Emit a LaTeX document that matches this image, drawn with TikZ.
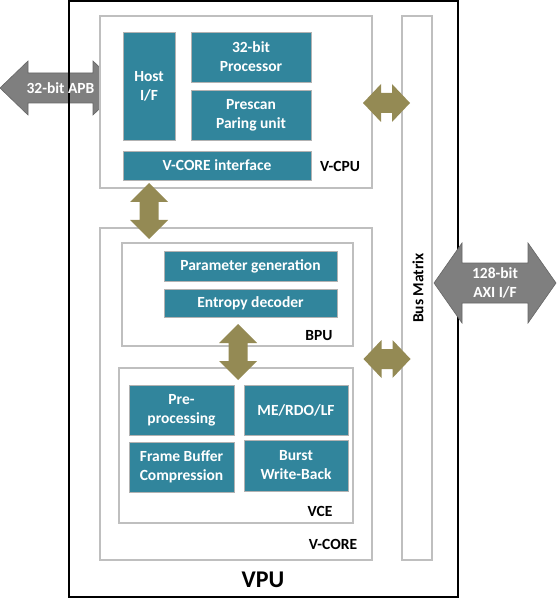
\documentclass[tikz,border=0pt]{standalone}
\usepackage{fontspec}
\setmainfont{Carlito}
\definecolor{tealblk}{HTML}{31859C}
\definecolor{olivearr}{HTML}{948A54}
\definecolor{greyarr}{HTML}{7F7F7F}
\definecolor{framegrey}{HTML}{BFBFBF}
\newcommand{\fatarrow}[7]{%
  \begin{scope}[shift={#2},rotate=#3]
    \path[#1] (-#4,0) -- ({-#4+#7},#6) -- ({-#4+#7},#5) -- ({#4-#7},#5) -- ({#4-#7},#6) -- (#4,0)
      -- ({#4-#7},-#6) -- ({#4-#7},-#5) -- ({-#4+#7},-#5) -- ({-#4+#7},-#6) -- cycle;
  \end{scope}}
\begin{document}
\begin{tikzpicture}[x=1pt,y=-1pt,
  blk/.style={draw=black!30, line width=0.8pt, fill=tealblk, text=white, align=center,
    inner sep=0pt, font=\bfseries\fontsize{15.5}{19}\selectfont},
  frm/.style={draw=framegrey, line width=1.6pt, fill=white, inner sep=0pt},
  lbl/.style={inner sep=0pt, align=center, font=\bfseries\fontsize{15.5}{19}\selectfont},
  greyfat/.style={fill=greyarr, draw=black!60, line width=0.6pt},
  olivefat/.style={fill=olivearr}]
  \useasboundingbox (0,0) rectangle (559,609);
  \fatarrow{greyfat}{(60.5,88)}{0}{60.5}{15}{27}{28}
  \node[draw, line width=1.8pt, minimum width=389pt, minimum height=596pt, inner sep=0pt] (vpu) at (263.5,299) {};
  \node[frm, minimum width=272pt, minimum height=172pt] (vcpu) at (236,102) {};
  \node[frm, minimum width=30pt, minimum height=544pt] (bus) at (417,288) {};
  \node[frm, minimum width=272pt, minimum height=332pt] (vcore) at (236,394) {};
  \node[frm, minimum width=231pt, minimum height=103pt] (bpu) at (237.5,294.5) {};
  \node[frm, minimum width=234pt, minimum height=155pt] (vce) at (236,445.5) {};
  \node[blk, minimum width=52pt, minimum height=108pt] (host) at (149,86) {Host\\I/F};
  \node[blk, minimum width=120pt, minimum height=50pt] (proc) at (251,57) {32-bit\\Processor};
  \node[blk, minimum width=120pt, minimum height=50pt] (prescan) at (251,115) {Prescan\\Paring unit};
  \node[blk, minimum width=188pt, minimum height=29pt] (vif) at (217,165.5) {V-CORE interface};
  \node[blk, minimum width=173pt, minimum height=30pt] (param) at (250.5,266) {Parameter generation};
  \node[blk, minimum width=173pt, minimum height=28pt] (entropy) at (250.5,303) {Entropy decoder};
  \node[blk, minimum width=105pt, minimum height=50pt] (pre) at (181.5,410) {Pre-\\processing};
  \node[blk, minimum width=104pt, minimum height=50pt] (me) at (296,410) {ME/RDO/LF};
  \node[blk, minimum width=105pt, minimum height=50pt] (fbc) at (181.5,467) {Frame Buffer\\Compression};
  \node[blk, minimum width=104pt, minimum height=51pt] (burst) at (296,465.5) {Burst\\Write-Back};
  \fatarrow{olivefat}{(386.5,103)}{0}{23.5}{10}{19}{18}
  \fatarrow{olivefat}{(387,359)}{0}{23.5}{10}{19}{18}
  \fatarrow{olivefat}{(149,211)}{90}{28}{9.5}{19}{19}
  \fatarrow{olivefat}{(238,352)}{90}{28}{9.5}{19}{19}
  \fatarrow{greyfat}{(495,283)}{0}{61}{20}{40}{28}
  \node[lbl, text=white] (apb) at (60.5,88) {32-bit APB};
  \node[lbl, text=white] (axi) at (495,283) {128-bit\\AXI I/F};
  \node[lbl, rotate=90] (busl) at (418,288) {Bus Matrix};
  \node[lbl] (vcpul) at (340,166) {V-CPU};
  \node[lbl] (bpul) at (319,336) {BPU};
  \node[lbl] (vcel) at (320,511) {VCE};
  \node[lbl] (vcorel) at (333,544) {V-CORE};
  \node[lbl, font=\bfseries\fontsize{24}{28}\selectfont] (vpul) at (263,580) {VPU};
\end{tikzpicture}
\end{document}
